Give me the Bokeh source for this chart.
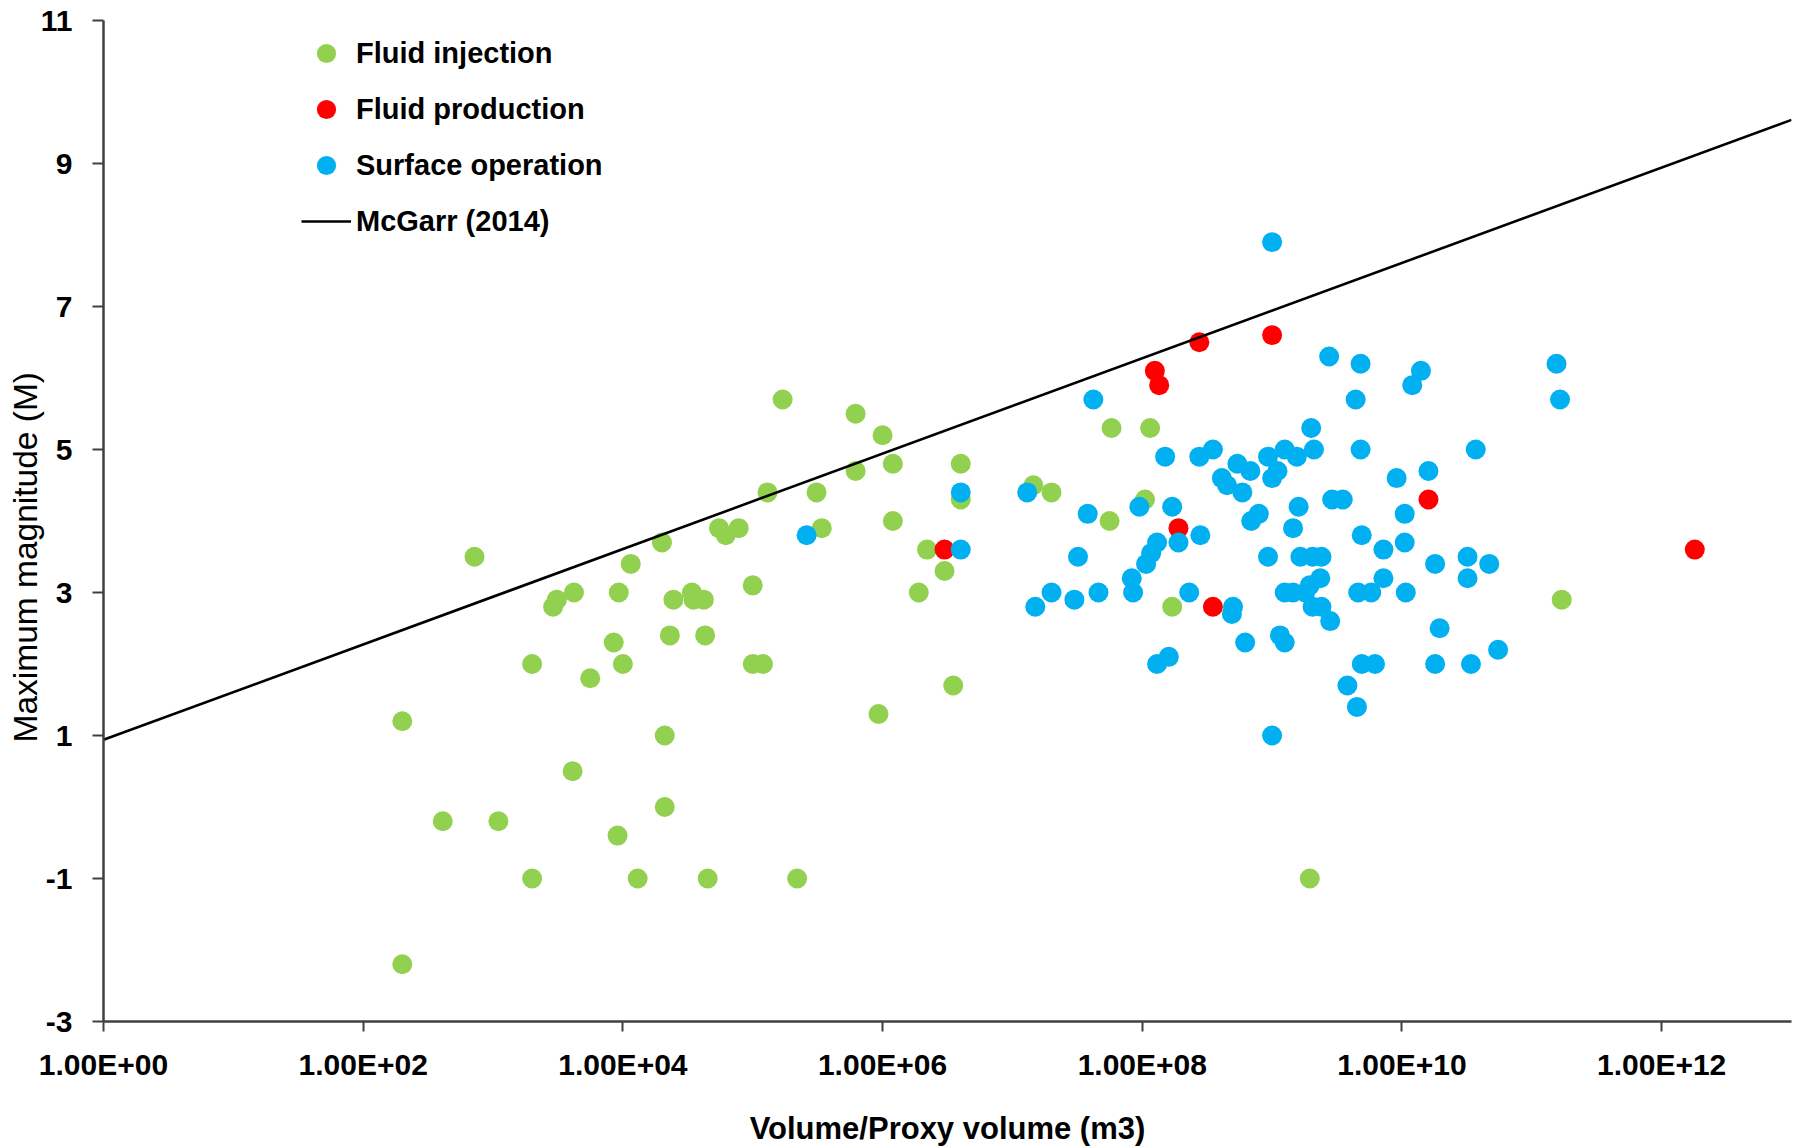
from bokeh.plotting import figure
from bokeh.models import (Range1d, FixedTicker, CustomJSTickFormatter,
                          Legend, LegendItem, Title)
from bokeh.embed import file_html
from bokeh.resources import INLINE

# ---------------------------------------------------------------------------
# Data: injected / produced / proxy volume (m3) against maximum magnitude
# ---------------------------------------------------------------------------
injection_volume = [
    2.0e2, 2.0e2, 4.1e2, 1.1e3, 7.2e2, 2.0e3, 2.0e3, 2.9e3, 3.1e3, 4.2e3,
    4.1e3, 5.6e3, 8.5e3, 9.3e3, 1.0e4, 9.1e3, 1.15e4, 2.0e4, 2.1e4, 2.1e4,
    1.3e4, 2.3e4, 2.45e4, 3.4e4, 3.5e4, 4.2e4, 4.3e4, 4.5e4, 5.5e4, 6.2e4,
    7.8e4, 1.0e5, 1.0e5, 1.2e5, 1.3e5, 1.7e5, 2.2e5, 3.1e5, 3.4e5, 6.2e5,
    6.2e5, 9.3e5, 1.0e6, 1.2e6, 1.2e6, 1.9e6, 2.2e6, 3.0e6, 3.5e6, 4.0e6,
    4.0e6, 1.45e7, 2.0e7, 5.6e7, 5.8e7, 1.15e8, 1.05e8, 1.7e8, 1.95e9, 1.7e11,
]
injection_magnitude = [
    1.2, -2.2, -0.2, -0.2, 3.5, 2.0, -1.0, 2.8, 2.9, 3.0,
    0.5, 1.8, 2.3, 3.0, 2.0, -0.4, 3.4, 3.7, 1.0, 0.0,
    -1.0, 2.4, 2.9, 3.0, 2.9, 2.9, 2.4, -1.0, 3.9, 3.8,
    3.9, 3.1, 2.0, 2.0, 4.4, 5.7, -1.0, 4.4, 3.9, 5.5,
    4.7, 1.3, 5.2, 4.8, 4.0, 3.0, 3.6, 3.3, 1.7, 4.8,
    4.3, 4.5, 4.4, 4.0, 5.3, 5.3, 4.3, 2.8, -1.0, 2.9,
]

production_volume = [3.0e6, 1.25e8, 1.35e8, 1.9e8, 2.75e8, 3.5e8, 1.0e9, 1.6e10, 1.8e12]
production_magnitude = [3.6, 6.1, 5.9, 3.9, 6.5, 2.8, 6.6, 4.3, 3.6]

surface_volume = [
    2.6e5, 4.0e6, 4.0e6, 1.3e7, 1.5e7, 2.0e7, 3.0e7, 3.2e7, 3.8e7, 4.2e7,
    4.6e7, 8.3e7, 8.5e7, 9.5e7, 1.07e8, 1.17e8, 1.3e8, 1.3e8, 1.5e8, 1.6e8,
    1.7e8, 1.9e8, 2.3e8, 2.75e8, 2.8e8, 3.5e8, 4.1e8, 4.5e8, 4.9e8, 5.0e8,
    5.4e8, 5.9e8, 6.2e8, 6.8e8, 6.9e8, 7.9e8, 9.3e8, 9.3e8, 1.0e9, 1.0e9,
    1.0e9, 1.1e9, 1.15e9, 1.25e9, 1.25e9, 1.25e9, 1.45e9, 1.45e9, 1.55e9, 1.6e9,
    1.65e9, 1.8e9, 1.95e9, 2.0e9, 2.05e9, 2.05e9, 2.1e9, 2.35e9, 2.4e9, 2.4e9,
    2.75e9, 2.8e9, 2.9e9, 3.5e9, 3.8e9, 4.4e9, 4.5e9, 4.6e9, 4.8e9, 4.8e9,
    4.9e9, 4.9e9, 5.8e9, 6.2e9, 7.2e9, 7.2e9, 9.1e9, 1.05e10, 1.05e10, 1.07e10,
    1.2e10, 1.4e10, 1.6e10, 1.8e10, 1.8e10, 1.95e10, 3.2e10, 3.2e10, 3.4e10, 3.7e10,
    4.7e10, 5.5e10, 1.55e11, 1.65e11,
]
surface_magnitude = [
    3.8, 4.4, 3.6, 4.4, 2.8, 3.0, 2.9, 3.5, 4.1, 5.7,
    3.0, 3.2, 3.0, 4.2, 3.4, 3.55, 3.7, 2.0, 4.9, 2.1,
    4.2, 3.7, 3.0, 4.9, 3.8, 5.0, 4.6, 4.5, 2.7, 2.8,
    4.8, 4.4, 2.3, 4.7, 4.0, 4.1, 4.9, 3.5, 7.9, 4.6,
    1.0, 4.7, 2.4, 2.3, 5.0, 3.0, 3.0, 3.9, 4.9, 4.2,
    3.5, 3.0, 3.1, 5.3, 3.5, 2.8, 5.0, 3.2, 3.5, 2.8,
    6.3, 2.6, 4.3, 4.3, 1.7, 5.7, 1.4, 3.0, 6.2, 5.0,
    3.8, 2.0, 3.0, 2.0, 3.6, 3.2, 4.6, 4.1, 3.7, 3.0,
    5.9, 6.1, 4.7, 3.4, 2.0, 2.5, 3.5, 3.2, 2.0, 5.0,
    3.4, 2.2, 6.2, 5.7,
]

# McGarr (2014) upper bound, end points across the volume range
mcgarr_volume = [1.0, 1.0e13]
mcgarr_magnitude = [0.94, 9.61]

x_ticks = [1.0, 1.0e2, 1.0e4, 1.0e6, 1.0e8, 1.0e10, 1.0e12]
x_tick_labels = ["1.00E+00", "1.00E+02", "1.00E+04", "1.00E+06",
                 "1.00E+08", "1.00E+10", "1.00E+12"]
y_ticks = [-3, -1, 1, 3, 5, 7, 9, 11]

series_names = ["Fluid injection", "Fluid production", "Surface operation", "McGarr (2014)"]
series_colors = ["#92D050", "#FF0000", "#00B0F0"]
x_title = "Volume/Proxy volume (m3)"
y_title = "Maximum magnitude (M)"

FONT = "Liberation Sans"
AXIS_COLOR = "#404040"

# ---------------------------------------------------------------------------
p = figure(
    width=1800, height=1148,
    x_axis_type="log",
    x_range=Range1d(1.0, 1.0e13), y_range=Range1d(-3, 11),
    output_backend="svg", toolbar_location=None,
    min_border_left=103, min_border_right=9,
    min_border_top=20, min_border_bottom=127,
    background_fill_color="white", border_fill_color="white",
)
p.outline_line_color = None
p.xgrid.visible = False
p.ygrid.visible = False

inj = p.scatter(injection_volume, injection_magnitude, size=20,
                fill_color=series_colors[0], line_color=None)
prod = p.scatter(production_volume, production_magnitude, size=20,
                 fill_color=series_colors[1], line_color=None)
surf = p.scatter(surface_volume, surface_magnitude, size=20,
                 fill_color=series_colors[2], line_color=None)
mc = p.line(mcgarr_volume, mcgarr_magnitude, line_color="black", line_width=2.6)

# axes
xa = p.xaxis[0]
ya = p.yaxis[0]
xa.ticker = FixedTicker(ticks=x_ticks)
xa.formatter = CustomJSTickFormatter(
    args=dict(tick_values=x_ticks, tick_texts=x_tick_labels),
    code="""
        for (let i = 0; i < tick_values.length; i++) {
            if (Math.abs(Math.log10(tick_values[i]) - Math.log10(tick)) < 1e-6) return tick_texts[i];
        }
        return "";
    """)
ya.ticker = FixedTicker(ticks=y_ticks)
# plain hyphen for negative magnitudes
ya.formatter = CustomJSTickFormatter(code="return String(Math.round(tick));")

for ax in (xa, ya):
    ax.axis_line_color = AXIS_COLOR
    ax.axis_line_width = 2.5
    ax.major_tick_line_color = AXIS_COLOR
    ax.major_tick_line_width = 2
    ax.major_tick_in = 0
    ax.minor_tick_line_color = None
    ax.major_label_text_font = FONT
    ax.major_label_text_font_style = "bold"
    ax.major_label_text_font_size = "30px"
    ax.major_label_text_color = "black"

xa.major_tick_out = 10
xa.major_label_standoff = 16
ya.major_tick_out = 11
ya.major_label_standoff = 20

# x title
xa.axis_label = x_title
xa.axis_label_standoff = 27
xa.axis_label_text_font = FONT
xa.axis_label_text_font_style = "bold"
xa.axis_label_text_font_size = "31px"
xa.axis_label_text_color = "black"

# y title as a side title so it can be offset along the axis
p.add_layout(Title(
    text=y_title, align="left", offset=279, standoff=-12,
    text_font=FONT, text_font_style="normal", text_font_size="33.5px",
    text_color="black"), "left")

legend = Legend(
    items=[LegendItem(label=series_names[0], renderers=[inj]),
           LegendItem(label=series_names[1], renderers=[prod]),
           LegendItem(label=series_names[2], renderers=[surf]),
           LegendItem(label=series_names[3], renderers=[mc])],
    location=(198, 776), orientation="vertical",
    padding=0, margin=0, spacing=8,
    glyph_width=50, glyph_height=48, label_standoff=5,
    label_text_font=FONT, label_text_font_style="bold",
    label_text_font_size="29px", label_text_color="black",
    border_line_color=None, background_fill_alpha=0,
)
p.add_layout(legend)

open("out.html", "w").write(file_html(p, INLINE))
